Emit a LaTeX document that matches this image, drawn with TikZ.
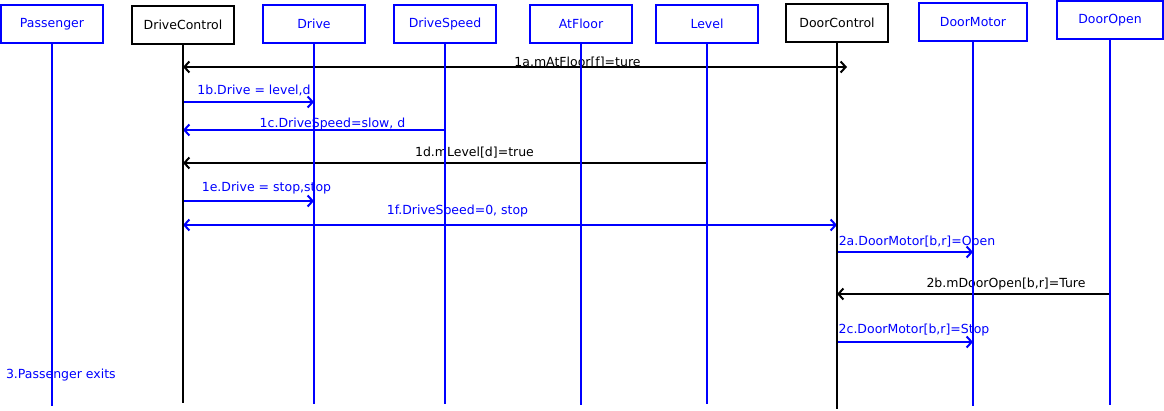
\documentclass[tikz,border=0pt]{standalone}
\usepackage{fontspec}
\setmainfont{DejaVu Sans}
\usetikzlibrary{arrows.meta}
\definecolor{umlblue}{RGB}{0,0,255}

\begin{document}
\begin{tikzpicture}[x=1pt, y=-1pt, line width=2pt, font=\fontsize{12.5}{15}\selectfont,
  >={Straight Barb[length=5pt,width=11pt]},
  obj/.style={draw, minimum height=38pt, inner sep=0pt, outer sep=0pt},
  msg/.style={->, line width=2pt},
  lbl/.style={anchor=base, inner sep=0pt}]
  \useasboundingbox (0,0) rectangle (1164,411);
  % objects
  \foreach \n/\x/\y/\w/\c/\t in {pass/52/24/102/umlblue/Passenger, drivectl/183/25/102/black/DriveControl,
      drive/314/24/102/umlblue/Drive, speed/445/24/102/umlblue/DriveSpeed, atfloor/581/24/102/umlblue/AtFloor,
      level/707/24/102/umlblue/Level, doorctl/837/23/102/black/DoorControl,
      doormotor/973/22/108/umlblue/DoorMotor, dooropen/1110/20/106/umlblue/DoorOpen} {
    \node[obj, draw=\c, text=\c, minimum width=\w] (\n) at (\x,\y) {\t};
  }
  % rows
  \foreach \r/\y in {1a/67, 1b/102, 1c/130, 1d/163, 1e/201, 1f/225, 2a/252, 2b/294, 2c/342}
    \coordinate (row\r) at (0,\y);
  % messages
  \draw[msg, <->, shorten >=-10pt] (drivectl |- row1a) -- (doorctl |- row1a);
  \node[lbl] (l1a) at (577.5,66.2) {1a.mAtFloor[f]=ture};
  \draw[msg, umlblue] (drivectl |- row1b) -- (drive |- row1b);
  \node[lbl, umlblue] (l1b) at (254,94.5) {1b.Drive = level,d};
  \draw[msg, umlblue] (speed |- row1c) -- (drivectl |- row1c);
  \node[lbl, umlblue] (l1c) at (332.5,127.2) {1c.DriveSpeed=slow, d};
  \draw[msg] (level |- row1d) -- (drivectl |- row1d);
  \node[lbl] (l1d) at (474.5,156.8) {1d.mLevel[d]=true};
  \draw[msg, umlblue] (drivectl |- row1e) -- (drive |- row1e);
  \node[lbl, umlblue] (l1e) at (266.5,191.2) {1e.Drive = stop,stop};
  \draw[msg, umlblue, <->] (drivectl |- row1f) -- (doorctl |- row1f);
  \node[lbl, umlblue] (l1f) at (457.5,214.5) {1f.DriveSpeed=0, stop};
  \draw[msg, umlblue] (doorctl |- row2a) -- (doormotor |- row2a);
  \node[lbl, umlblue] (l2a) at (917,245.5) {2a.DoorMotor[b,r]=Open};
  \draw[msg] (dooropen |- row2b) -- (doorctl |- row2b);
  \node[lbl] (l2b) at (1006,287.2) {2b.mDoorOpen[b,r]=Ture};
  \draw[msg, umlblue] (doorctl |- row2c) -- (doormotor |- row2c);
  \node[lbl, umlblue] (l2c) at (914,333.2) {2c.DoorMotor[b,r]=Stop};
  \node[lbl, anchor=base west, umlblue] (l3) at (5,378.5) {3.Passenger exits};
  % lifelines
  \foreach \n/\b/\c in {pass/406/umlblue, drivectl/403/black, drive/404/umlblue, speed/404/umlblue,
      atfloor/405/umlblue, level/404/umlblue, doorctl/409/black, doormotor/406/umlblue, dooropen/405/umlblue} {
    \coordinate (\n-end) at (\n |- 0,\b);
    \draw[\c, line width=2pt] (\n.south) -- (\n-end);
  }
\end{tikzpicture}
\end{document}
